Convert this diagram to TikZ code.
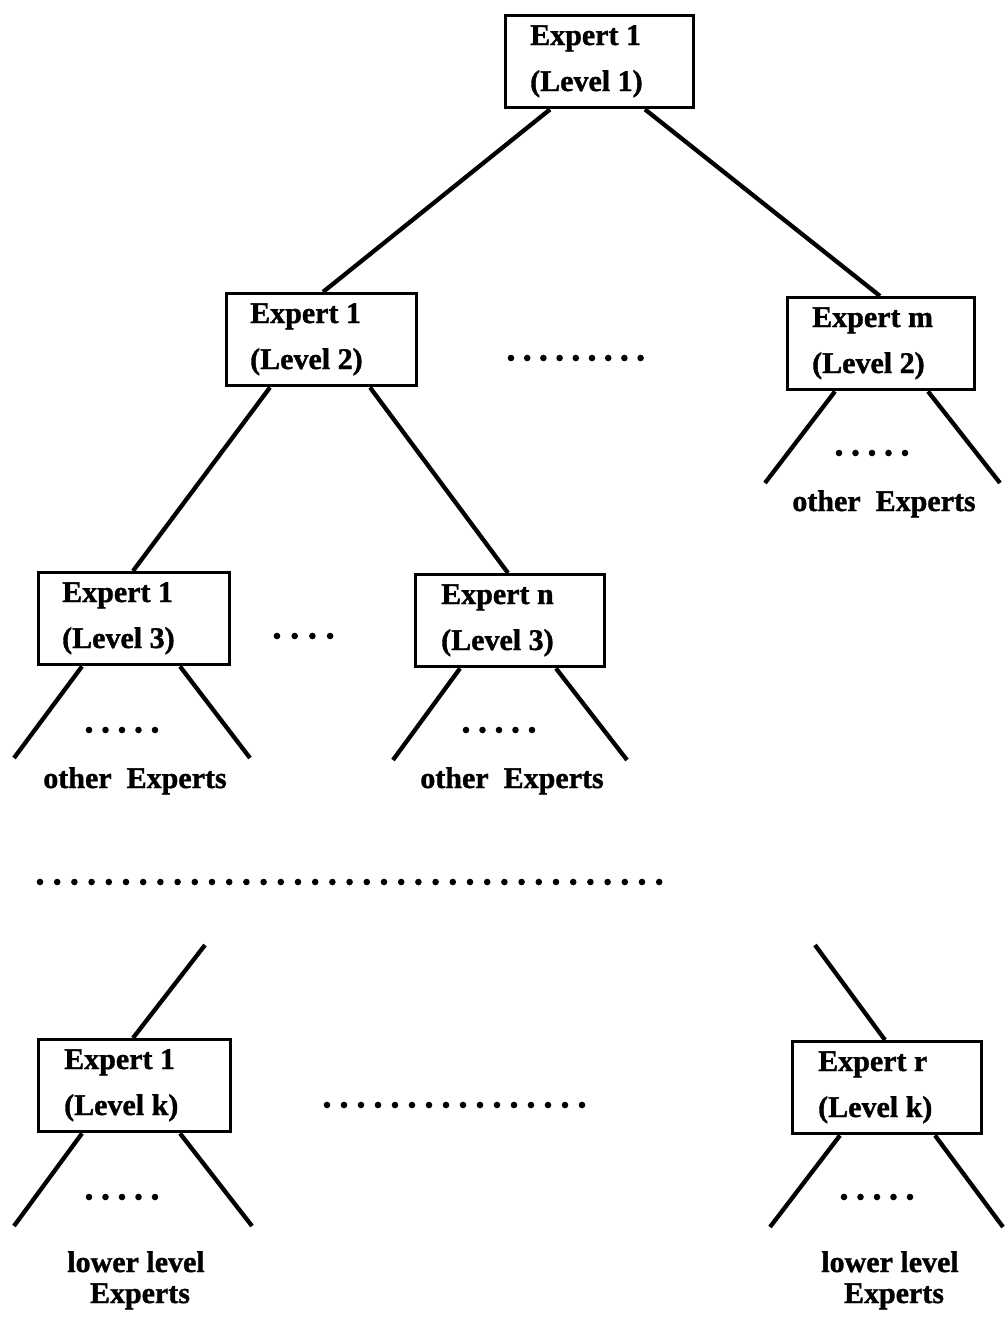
\documentclass[tikz,border=0pt]{standalone}
\usepackage{fontspec}
\setmainfont{Liberation Serif}[BoldFeatures={FakeBold=1.2}]
\usetikzlibrary{calc}
\begin{document}
\begin{tikzpicture}[x=1pt,y=-1pt,
  box/.style={draw,line width=3.4pt,rectangle,inner sep=0pt},
  txt/.style={inner sep=0pt,anchor=base west,font=\fontsize{30}{34}\selectfont\bfseries},
  ctxt/.style={inner sep=0pt,anchor=base,font=\fontsize{30}{34}\selectfont\bfseries},
  link/.style={line width=4.3pt},
  dot/.style={fill=black}
]
\useasboundingbox (0,0) rectangle (1005,1320);

% expert box: name, top-left corner, width, text x, two lines
\newcommand\expertbox[7]{%
  \node[box,minimum width=#4,minimum height=92,anchor=north west] (#1) at (#2,#3) {};
  \node[txt] (#1a) at (#5,#3+31) {#6};
  \node[txt] (#1b) at (#5,#3+77) {#7};
}
% a row of dots: first x, y, spacing, count
\newcommand\dotrow[4]{%
  \foreach \k in {1,...,#4} {\fill ({#1+(\k-1)*#3},#2) circle (3.3);}
}

\expertbox{b1}{504}{14}{188}{530}{Expert 1}{(Level 1)}
\expertbox{ba}{225}{292}{190}{250}{Expert 1}{(Level 2)}
\expertbox{bm}{786}{296}{187}{812}{Expert m}{(Level 2)}
\expertbox{ca}{37}{571}{191}{62}{Expert 1}{(Level 3)}
\expertbox{cn}{414}{573}{189}{441}{Expert n}{(Level 3)}
\expertbox{ka}{37}{1038}{192}{64}{Expert 1}{(Level k)}
\expertbox{kr}{791}{1040}{189}{818}{Expert r}{(Level k)}

% tree edges
\draw[link] ($(b1.south west)+(46,0)$) -- ($(ba.north west)+(98,0)$);
\draw[link] ($(b1.south west)+(141,0)$) -- ($(bm.north west)+(94,0)$);
\draw[link] ($(ba.south west)+(45,0)$) -- ($(ca.north west)+(96,0)$);
\draw[link] ($(ba.south west)+(145,0)$) -- ($(cn.north west)+(94,0)$);

% open branches
\coordinate (bmL) at (765,483);  \coordinate (bmR) at (1000,483);
\coordinate (caL) at (14,758);   \coordinate (caR) at (250,758);
\coordinate (cnL) at (393,760);  \coordinate (cnR) at (627,760);
\coordinate (kaP) at (205,945);  \coordinate (krP) at (815,945);
\coordinate (kaL) at (14,1226);  \coordinate (kaR) at (252,1226);
\coordinate (krL) at (770,1227); \coordinate (krR) at (1003,1227);

\draw[link] ($(bm.south west)+(49,0)$) -- (bmL);
\draw[link] ($(bm.south west)+(142,0)$) -- (bmR);
\draw[link] ($(ca.south west)+(45,0)$) -- (caL);
\draw[link] ($(ca.south west)+(143,0)$) -- (caR);
\draw[link] ($(cn.south west)+(46,0)$) -- (cnL);
\draw[link] ($(cn.south west)+(142,0)$) -- (cnR);
\draw[link] (kaP) -- ($(ka.north west)+(96,0)$);
\draw[link] (krP) -- ($(kr.north west)+(94,0)$);
\draw[link] ($(ka.south west)+(45,0)$) -- (kaL);
\draw[link] ($(ka.south west)+(143,0)$) -- (kaR);
\draw[link] ($(kr.south west)+(49,0)$) -- (krL);
\draw[link] ($(kr.south west)+(144,0)$) -- (krR);

% ellipses
\dotrow{511}{358}{16.2}{9}
\dotrow{277}{636}{17.7}{4}
\dotrow{839}{453}{16.5}{5}
\dotrow{89}{730}{16.5}{5}
\dotrow{466}{730}{16.5}{5}
\dotrow{40}{882}{17.2}{37}
\dotrow{327}{1105}{17.0}{16}
\dotrow{89}{1197}{16.5}{5}
\dotrow{844}{1197}{16.5}{5}

% leaf captions
\node[ctxt] (oe1) at (884,511) {other\ \ Experts};
\node[ctxt] (oe2) at (135,788) {other\ \ Experts};
\node[ctxt] (oe3) at (512,788) {other\ \ Experts};
\node[ctxt] (ll1) at (136,1272) {lower level};
\node[ctxt] (ex1) at (140,1303) {Experts};
\node[ctxt] (ll2) at (890,1272) {lower level};
\node[ctxt] (ex2) at (894,1303) {Experts};
\end{tikzpicture}
\end{document}
